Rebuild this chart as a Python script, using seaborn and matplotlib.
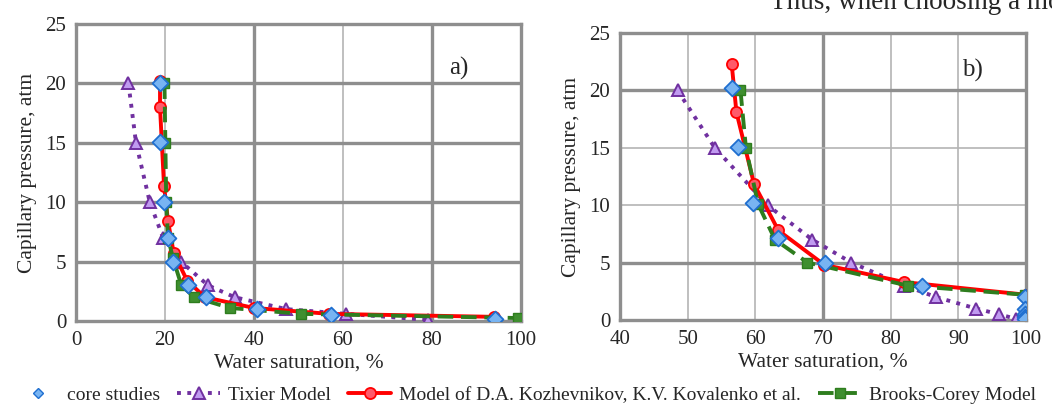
import matplotlib
matplotlib.use('Agg')
import matplotlib.pyplot as plt
import numpy as np
import pandas as pd
import seaborn as sns
from matplotlib.lines import Line2D

# --- panel a) data ---
a_core_sw = [19.0, 19.0, 19.8, 20.7, 21.9, 25.2, 29.2, 40.6, 57.3, 94.3]
a_core_pc = [20.0, 15.1, 10.0, 7.0, 5.0, 3.0, 2.0, 1.0, 0.5, 0.2]
a_tix_sw = [11.8, 13.5, 16.6, 19.6, 23.6, 29.7, 35.7, 47.3, 60.8, 79.2]
a_tix_pc = [20.0, 15.0, 10.0, 7.0, 5.0, 3.0, 2.0, 1.0, 0.6, 0.1]
a_koz_sw = [18.9, 18.9, 19.8, 20.7, 22.0, 25.0, 29.0, 40.0, 57.0, 94.0]
a_koz_pc = [20.2, 18.0, 11.4, 8.4, 5.7, 3.4, 2.0, 1.1, 0.6, 0.35]
a_bc_sw = [19.9, 20.1, 20.3, 20.7, 21.8, 23.7, 26.6, 34.6, 50.7, 99.4]
a_bc_pc = [20.0, 15.0, 10.0, 7.0, 5.3, 3.0, 2.0, 1.1, 0.6, 0.25]

# --- panel b) data ---
b_core_sw = [56.5, 57.4, 59.6, 63.4, 70.3, 84.6, 99.9, 99.9, 99.9, 99.9, 99.9]
b_core_pc = [20.2, 15.1, 10.2, 7.1, 5.0, 3.0, 2.0, 1.0, 0.5, 0.3, 0.1]
b_tix_sw = [48.5, 54.0, 61.8, 68.4, 74.2, 82.0, 86.7, 92.6, 96.0, 98.5]
b_tix_pc = [20.0, 15.0, 10.0, 7.0, 5.0, 3.0, 2.0, 1.0, 0.5, 0.1]
b_koz_sw = [56.5, 57.2, 59.8, 63.4, 70.2, 82.0, 100.0]
b_koz_pc = [22.3, 18.1, 11.85, 7.8, 4.8, 3.3, 2.2]
b_bc_sw = [57.8, 58.6, 60.4, 62.9, 67.7, 82.5, 99.8]
b_bc_pc = [20.0, 15.0, 10.1, 7.0, 5.0, 3.0, 2.2]

labels = ['core studies', 'Tixier Model',
          'Model of D.A. Kozhevnikov, K.V. Kovalenko et al.', 'Brooks-Corey Model']

sns.set_style('white')
plt.rcParams['font.family'] = ['Liberation Serif', 'DejaVu Serif']

PURPLE = '#7030a0'
RED = '#ff0000'
GREEN = '#2e7d1e'
BLUE = '#1f6fd0'

core_kw = dict(marker='D', s=65, color='#78b4f2', edgecolor=BLUE, linewidth=1.3, zorder=6)
tix_kw = dict(color=PURPLE, linestyle=':', linewidth=2.8, marker='^', markersize=9,
              markerfacecolor='#c09af0', markeredgecolor=PURPLE, markeredgewidth=1.4)
koz_kw = dict(color=RED, linestyle='-', linewidth=2.8, marker='o', markersize=8,
              markerfacecolor='#ff5a6a', markeredgecolor=RED, markeredgewidth=1.3)
bc_kw = dict(color=GREEN, linestyle=(0, (4, 2)), linewidth=2.8, marker='s', markersize=7.5,
             markerfacecolor='#3f8f2f', markeredgecolor=GREEN, markeredgewidth=1.0)

fig = plt.figure(figsize=(10.52, 4.05), dpi=100)
ax1 = fig.add_axes([0.0722, 0.2074, 0.4228, 0.7333])
ax2 = fig.add_axes([0.5894, 0.2099, 0.3859, 0.7086])


def draw(ax, core, tix, koz, bc):
    sns.lineplot(x=tix[0], y=tix[1], sort=False, estimator=None, ax=ax, zorder=3, **tix_kw)
    sns.lineplot(x=koz[0], y=koz[1], sort=False, estimator=None, ax=ax, zorder=4, **koz_kw)
    sns.lineplot(x=bc[0], y=bc[1], sort=False, estimator=None, ax=ax, zorder=5, **bc_kw)
    sns.scatterplot(x=core[0], y=core[1], ax=ax, **core_kw)


def style(ax, xlim, xstep, thick_x, thick_y, tag, tag_xy):
    ax.set_xlim(*xlim)
    ax.set_ylim(0, 25)
    ax.set_xticks(np.arange(xlim[0], xlim[1] + 1, xstep))
    ax.set_yticks(np.arange(0, 26, 5))
    ax.grid(True, color='#b4b4b4', linewidth=1.2)
    ax.set_axisbelow(True)
    for t, v in zip(ax.xaxis.get_major_ticks(), ax.get_xticks()):
        if v in thick_x:
            t.gridline.set_linewidth(2.4)
            t.gridline.set_color('#8e8e8e')
    for t, v in zip(ax.yaxis.get_major_ticks(), ax.get_yticks()):
        if v in thick_y:
            t.gridline.set_linewidth(2.4)
            t.gridline.set_color('#8e8e8e')
    for sp in ax.spines.values():
        sp.set_color('#8e8e8e')
        sp.set_linewidth(2.4)
    ax.tick_params(labelsize=15, length=0)
    ax.tick_params(axis='x', pad=7)
    ax.tick_params(axis='y', pad=7)
    ax.set_xlabel('Water saturation, %', fontsize=15.5, labelpad=3)
    ax.set_ylabel('Capillary pressure, atm', fontsize=15.5, labelpad=6)
    ax.text(tag_xy[0], tag_xy[1], tag, transform=ax.transAxes, fontsize=18,
            ha='center', va='center')


draw(ax1, (a_core_sw, a_core_pc), (a_tix_sw, a_tix_pc), (a_koz_sw, a_koz_pc), (a_bc_sw, a_bc_pc))
draw(ax2, (b_core_sw, b_core_pc), (b_tix_sw, b_tix_pc), (b_koz_sw, b_koz_pc), (b_bc_sw, b_bc_pc))
style(ax1, (0, 100), 20, [40, 80], [5, 10, 15, 20], 'a)', (0.861, 0.852))
style(ax2, (40, 100), 10, [70], [5, 20], 'b)', (0.869, 0.868))

# clipped body text at the top of the page
fig.text(0.732, 1 - 9 / 405, 'Thus, when choosing a model', fontsize=19.5, va='baseline')

handles = [
    Line2D([], [], linestyle='none', marker='D', markersize=5, markerfacecolor='#78b4f2',
           markeredgecolor=BLUE),
    Line2D([], [], **tix_kw),
    Line2D([], [], **koz_kw),
    Line2D([], [], **bc_kw),
]
fig.legend(handles, labels, loc='lower center', bbox_to_anchor=(0.5, -0.035), ncol=4,
           frameon=False, fontsize=14, handlelength=2.2, columnspacing=0.9,
           handletextpad=0.4, borderpad=0.3)

fig.savefig('out.png', dpi=100)
